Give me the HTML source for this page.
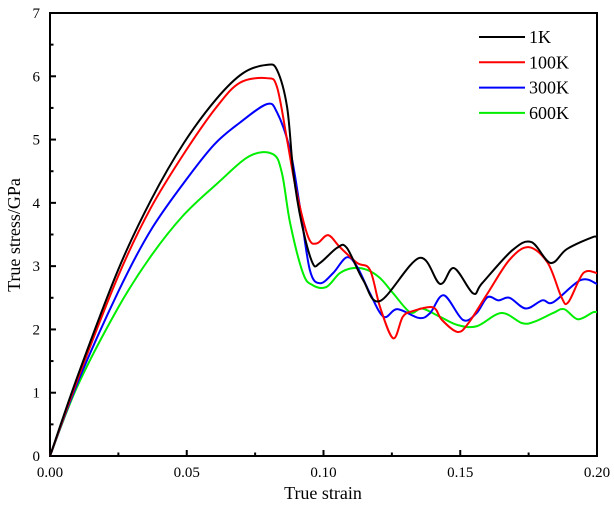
<!DOCTYPE html>
<html><head><meta charset="utf-8"><style>
body{margin:0;background:#fff}
svg text{font-family:"Liberation Serif",serif;fill:#000}
</style></head><body>
<svg id="chart" width="614" height="506" viewBox="0 0 614 506" xmlns="http://www.w3.org/2000/svg">
<g id="axes"></g>
<g id="series"></g>
<g id="legend"></g>
<text x="323" y="499" font-size="18" text-anchor="middle">True strain</text>
<text transform="translate(20,235) rotate(-90)" font-size="18" text-anchor="middle">True stress/GPa</text>
</svg>
<script>
const xTicks=[0,0.05,0.10,0.15,0.20];
const xTickLabels=["0.00","0.05","0.10","0.15","0.20"];
const yTicks=[0,1,2,3,4,5,6,7];
const seriesNames=["1K","100K","300K","600K"];
const seriesColors=["#000000","#ff0000","#0000ff","#00ee00"];
const strain1K=[0,0.01,0.025,0.037,0.049,0.061,0.0706,0.0793,0.083,0.0867,0.089,0.092,0.096,0.0987,0.105,0.1085,0.1145,0.1207,0.135,0.1426,0.1477,0.1547,0.158,0.169,0.176,0.183,0.189,0.1985,0.2];
const stress1K=[0,1.25,2.95,4.05,4.95,5.65,6.05,6.18,6.1,5.51,4.47,3.68,3.05,3.05,3.29,3.29,2.78,2.45,3.13,2.72,2.97,2.57,2.73,3.25,3.38,3.05,3.27,3.46,3.44];
const strain100K=[0,0.01,0.025,0.0366,0.049,0.061,0.0695,0.0793,0.083,0.0867,0.09,0.0944,0.0976,0.1017,0.106,0.1123,0.117,0.1207,0.1255,0.129,0.1327,0.14,0.1433,0.149,0.153,0.16,0.168,0.175,0.182,0.187,0.1895,0.195,0.2];
const stress100K=[0,1.2,2.85,3.9,4.78,5.52,5.9,5.97,5.83,4.99,4.2,3.46,3.36,3.49,3.3,3.05,2.94,2.35,1.86,2.2,2.29,2.35,2.15,1.96,2.1,2.57,3.1,3.3,3.05,2.51,2.43,2.89,2.89];
const strain300K=[0,0.01,0.025,0.0366,0.049,0.06,0.0695,0.0793,0.083,0.0878,0.0914,0.095,0.0987,0.1035,0.1085,0.1123,0.117,0.122,0.127,0.135,0.139,0.144,0.151,0.156,0.16,0.164,0.168,0.174,0.18,0.184,0.194,0.2];
const stress300K=[0,1.15,2.6,3.55,4.32,4.92,5.27,5.56,5.43,4.83,3.93,2.94,2.73,2.89,3.14,2.99,2.57,2.2,2.32,2.18,2.26,2.54,2.15,2.26,2.51,2.46,2.5,2.33,2.46,2.43,2.78,2.72];
const strain600K=[0,0.01,0.025,0.0366,0.0487,0.061,0.073,0.0815,0.0848,0.0878,0.0925,0.096,0.101,0.106,0.111,0.116,0.1207,0.1255,0.1317,0.136,0.1426,0.149,0.156,0.165,0.1726,0.177,0.184,0.188,0.193,0.1985,0.2];
const stress600K=[0,1.1,2.35,3.14,3.8,4.3,4.74,4.77,4.47,3.68,2.89,2.7,2.67,2.89,2.97,2.94,2.81,2.57,2.27,2.33,2.2,2.07,2.05,2.26,2.1,2.12,2.26,2.32,2.16,2.27,2.27];
const strainSets=[strain1K,strain100K,strain300K,strain600K];
const stressSets=[stress1K,stress100K,stress300K,stress600K];

const X0=50,X1=597,Y0=456,Y1=13;
const sx=v=>X0+v/0.2*(X1-X0);
const sy=v=>Y0-v/7*(Y0-Y1);
const NS="http://www.w3.org/2000/svg";
function mk(tag,attrs,parent){const e=document.createElementNS(NS,tag);for(const k in attrs)e.setAttribute(k,attrs[k]);parent.appendChild(e);return e;}
const axes=document.getElementById('axes');
const frame=mk('rect',{x:X0,y:Y1,width:X1-X0,height:Y0-Y1,fill:'none',stroke:'#000','stroke-width':2},axes);


xTicks.forEach((t,i)=>{
  const x=sx(t);
  const tk=mk('line',{x1:x,x2:x,y1:Y0,y2:Y0-6,stroke:'#000','stroke-width':2},axes);
  
  
  const lb=mk('text',{x:x,y:Y0+21,'font-size':15,'text-anchor':'middle'},axes);
  lb.textContent=xTickLabels[i];
  
  
  if(i<xTicks.length-1){
    const mx=sx(t+0.025);
    const m=mk('line',{x1:mx,x2:mx,y1:Y0,y2:Y0-3.5,stroke:'#000','stroke-width':2},axes);
    
    
  }
});
yTicks.forEach((t,i)=>{
  const y=sy(t);
  const tk=mk('line',{x1:X0,x2:X0+6,y1:y,y2:y,stroke:'#000','stroke-width':2},axes);
  
  
  const lb=mk('text',{x:X0-10,y:y+5,'font-size':15,'text-anchor':'end'},axes);
  lb.textContent=String(t);
  
  
  if(i<yTicks.length-1){
    const my=sy(t+0.5);
    const m=mk('line',{x1:X0,x2:X0+3.5,y1:my,y2:my,stroke:'#000','stroke-width':2},axes);
    
    
  }
});
function smoothPath(pts){
  let d=`M${pts[0][0]},${pts[0][1]}`;
  for(let i=0;i<pts.length-1;i++){
    const p0=pts[Math.max(i-1,0)],p1=pts[i],p2=pts[i+1],p3=pts[Math.min(i+2,pts.length-1)];
    const c1=[p1[0]+(p2[0]-p0[0])/6,p1[1]+(p2[1]-p0[1])/6];
    const c2=[p2[0]-(p3[0]-p1[0])/6,p2[1]-(p3[1]-p1[1])/6];
    d+=` C${c1[0]},${c1[1]} ${c2[0]},${c2[1]} ${p2[0]},${p2[1]}`;
  }
  return d;
}
const series=document.getElementById('series');
const order=[3,2,1,0];
order.forEach(k=>{
  const pts=strainSets[k].map((v,j)=>[sx(v),sy(stressSets[k][j])]);
  const p=mk('path',{d:smoothPath(pts),fill:'none',stroke:seriesColors[k],'stroke-width':2,'stroke-linejoin':'round'},series);
  
  
});
const legend=document.getElementById('legend');
seriesNames.forEach((n,i)=>{
  const y=37+i*25.3;
  const l=mk('line',{x1:479,x2:525,y1:y,y2:y,stroke:seriesColors[i],'stroke-width':2},legend);
  
  
  const t=mk('text',{x:529,y:y+6,'font-size':18},legend);
  t.textContent=n;
  
  
});
</script>
</body></html>
